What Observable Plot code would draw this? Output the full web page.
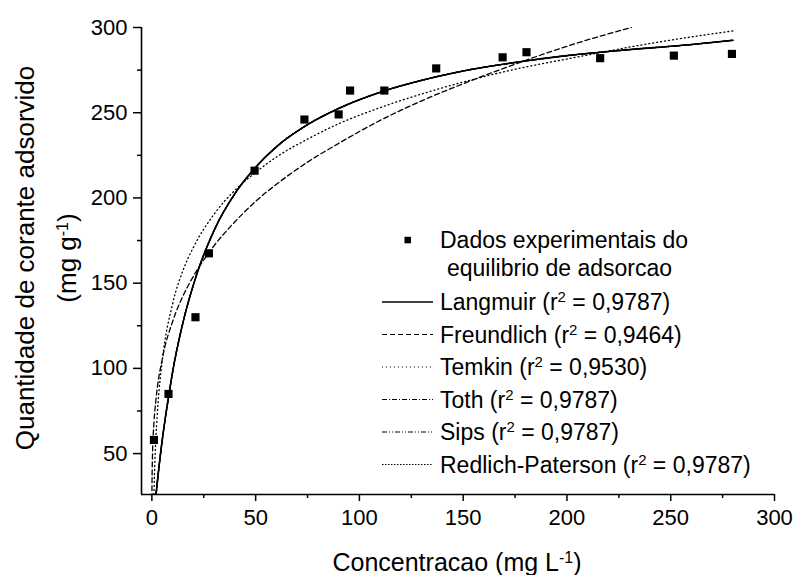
<!DOCTYPE html>
<html><head><meta charset="utf-8">
<script src="https://cdn.jsdelivr.net/npm/d3@7"></script>
<script src="https://cdn.jsdelivr.net/npm/@observablehq/plot@0.6"></script>
<style>
body{margin:0;background:#fff;}
#chart{width:795px;height:575px;}
</style></head><body><div id="chart"></div>
<script>
const expX = [1, 8, 21, 27.5, 49.5, 73.5, 90, 95.5, 112, 137, 169, 180.5, 216, 251.5, 279.5];
const expY = [58, 85, 130, 167.5, 216, 246, 249, 263, 263, 276, 282.5, 285.5, 282, 283.5, 284.5];

// Fitted model curves
const langX = [2, 3, 5, 8, 10, 15, 20, 30, 40, 50, 60, 75, 90, 110, 130, 150, 175, 200, 230, 260, 280];
const langY = [26, 37.5, 58, 83, 98, 127, 149, 181, 202.5, 218, 230, 243, 252.5, 262, 269, 274.5, 279.5, 283.5, 287, 290, 292.5];
const freuX = [0.02, 0.05, 0.3, 1, 2, 5, 10, 15, 20, 30, 40, 50, 60, 75, 90, 110, 130, 150, 175, 200, 231];
const freuY = [23.4, 30, 49, 68, 82, 105.5, 127.5, 142.5, 154, 172, 186, 198, 208, 221, 232, 245.5, 257, 267, 278.5, 289, 300];
const temkX = [0.97, 1.5, 2, 3, 5, 10, 15, 20, 30, 40, 50, 60, 75, 90, 110, 130, 150, 175, 200, 230, 260, 280];
const temkY = [26, 47, 60.5, 80, 104.5, 138, 157.5, 171, 190.5, 204.5, 215, 224, 234.5, 243.5, 253, 261, 268, 275.5, 281.5, 288.5, 294.5, 298];
// Toth, Sips and Redlich-Paterson coincide with Langmuir in the picture
const tothX = [2, 3, 5, 8, 10, 15, 20, 30, 40, 50, 60, 75, 90, 110, 130, 150, 175, 200, 230, 260, 280];
const tothY = [26, 37.5, 58, 83, 98, 127, 149, 181, 202.5, 218, 230, 243, 252.5, 262, 269, 274.5, 279.5, 283.5, 287, 290, 292.5];
const sipsX = [2, 3, 5, 8, 10, 15, 20, 30, 40, 50, 60, 75, 90, 110, 130, 150, 175, 200, 230, 260, 280];
const sipsY = [26, 37.5, 58, 83, 98, 127, 149, 181, 202.5, 218, 230, 243, 252.5, 262, 269, 274.5, 279.5, 283.5, 287, 290, 292.5];
const rpX = [2, 3, 5, 8, 10, 15, 20, 30, 40, 50, 60, 75, 90, 110, 130, 150, 175, 200, 230, 260, 280];
const rpY = [26, 37.5, 58, 83, 98, 127, 149, 181, 202.5, 218, 230, 243, 252.5, 262, 269, 274.5, 279.5, 283.5, 287, 290, 292.5];

// Axes
const xDomain = [-5, 300];
const yDomain = [26, 300];
const xTicks = [0, 50, 100, 150, 200, 250, 300];
const xMinor = [25, 75, 125, 175, 225, 275];
const yTicks = [50, 100, 150, 200, 250, 300];
const yMinor = [75, 125, 175, 225, 275];

// Texts
const modelNames = ["Langmuir", "Freundlich", "Temkin", "Toth", "Sips", "Redlich-Paterson"];
const modelR2 = ["0,9787", "0,9464", "0,9530", "0,9787", "0,9787", "0,9787"];
const dataLabel = ["Dados experimentais do", "equilibrio de adsorcao"];
const xTitle = ["Concentracao (mg L", "-1", ")"];
const yTitle1 = "Quantidade de corante adsorvido";
const yTitle2 = ["(mg g", "-1", ")"];

const font = "'Liberation Sans', Arial, Helvetica, sans-serif";
const rows = (xs, ys) => xs.map((x, i) => ({x, y: ys[i]}));
const dashes = {
  "Langmuir": null,
  "Freundlich": "5,3",
  "Temkin": "1,3",
  "Toth": "5,2,1,2",
  "Sips": "5,2,1,2,1,2",
  "Redlich-Paterson": "1.5,1.5"
};
const curveData = {
  "Langmuir": rows(langX, langY),
  "Freundlich": rows(freuX, freuY),
  "Temkin": rows(temkX, temkY),
  "Toth": rows(tothX, tothY),
  "Sips": rows(sipsX, sipsY),
  "Redlich-Paterson": rows(rpX, rpY)
};
const drawOrder = ["Toth", "Sips", "Redlich-Paterson", "Temkin", "Freundlich", "Langmuir"];
const lineMarks = drawOrder.map(name => Plot.line(curveData[name], {
  x: "x", y: "y", curve: "monotone-x", stroke: "#000",
  strokeWidth: name === "Langmuir" ? 1.6 : 1.3,
  strokeDasharray: dashes[name], clip: true
}));

const plot = Plot.plot({
  width: 795, height: 575,
  marginLeft: 141, marginRight: 21, marginTop: 27, marginBottom: 81,
  style: {fontFamily: font, fontSize: "22px", color: "#000", background: "#fff", overflow: "visible"},
  x: {domain: xDomain, label: null},
  y: {domain: yDomain, label: null},
  marks: [
    Plot.axisX({ticks: xTicks, tickSize: 7, tickPadding: 8, strokeWidth: 1.5, tickFormat: d => d, label: null}),
    Plot.axisX({ticks: xMinor, tickSize: 4, strokeWidth: 1.5, tickFormat: () => "", label: null}),
    Plot.axisY({ticks: yTicks, tickSize: 8, tickPadding: 6, strokeWidth: 1.5, tickFormat: d => d, label: null}),
    Plot.axisY({ticks: yMinor, tickSize: 4, strokeWidth: 1.5, tickFormat: () => "", label: null}),
    Plot.ruleX([xDomain[0]], {strokeWidth: 1.6}),
    Plot.ruleY([yDomain[0]], {strokeWidth: 1.6}),
    ...lineMarks,
    Plot.dot(rows(expX, expY), {x: "x", y: "y", symbol: "square", r: 4.6, fill: "#000", stroke: null})
  ]
});
document.getElementById("chart").appendChild(plot);

const svg = d3.select(plot);
const g = svg.append("g").attr("font-family", font).attr("fill", "#000");

function supText(sel, parts, supSize) {
  sel.append("tspan").text(parts[0]);
  sel.append("tspan").attr("font-size", supSize).attr("baseline-shift", "super").text(parts[1]);
  sel.append("tspan").text(parts[2]);
}

// Axis titles
const xT = g.append("text").attr("x", 457).attr("y", 562).attr("dy", "0.36em")
  .attr("text-anchor", "middle").attr("font-size", 25);
supText(xT, xTitle, 16);

g.append("text").attr("transform", "translate(25,258) rotate(-90)")
  .attr("dy", "0.36em").attr("text-anchor", "middle").attr("font-size", 26).text(yTitle1);
const yT2 = g.append("text").attr("transform", "translate(67,258) rotate(-90)")
  .attr("dy", "0.36em").attr("text-anchor", "middle").attr("font-size", 26);
supText(yT2, yTitle2, 16);

// Legend
const lg = g.append("g").attr("font-size", 23).attr("text-anchor", "start");
lg.append("rect").attr("x", 404.5).attr("y", 236.8).attr("width", 6.5).attr("height", 6.5).attr("fill", "#000");
lg.append("text").attr("text-anchor", "start").attr("x", 440).attr("y", 240).attr("dy", "0.36em").text(dataLabel[0]);
lg.append("text").attr("text-anchor", "start").attr("x", 447).attr("y", 268).attr("dy", "0.36em").text(dataLabel[1]);
modelNames.forEach((name, i) => {
  const yy = 302 + i * 32.5;
  lg.append("line").attr("x1", 382).attr("x2", 433).attr("y1", yy).attr("y2", yy)
    .attr("stroke", "#000").attr("stroke-width", name === "Langmuir" ? 1.5 : 1.1)
    .attr("stroke-dasharray", dashes[name]);
  const t = lg.append("text").attr("text-anchor", "start").attr("x", 440).attr("y", yy).attr("dy", "0.36em");
  t.append("tspan").text(name + " (r");
  t.append("tspan").attr("font-size", 15).attr("baseline-shift", "super").text("2");
  t.append("tspan").text(" = " + modelR2[i] + ")");
});
</script></body></html>
